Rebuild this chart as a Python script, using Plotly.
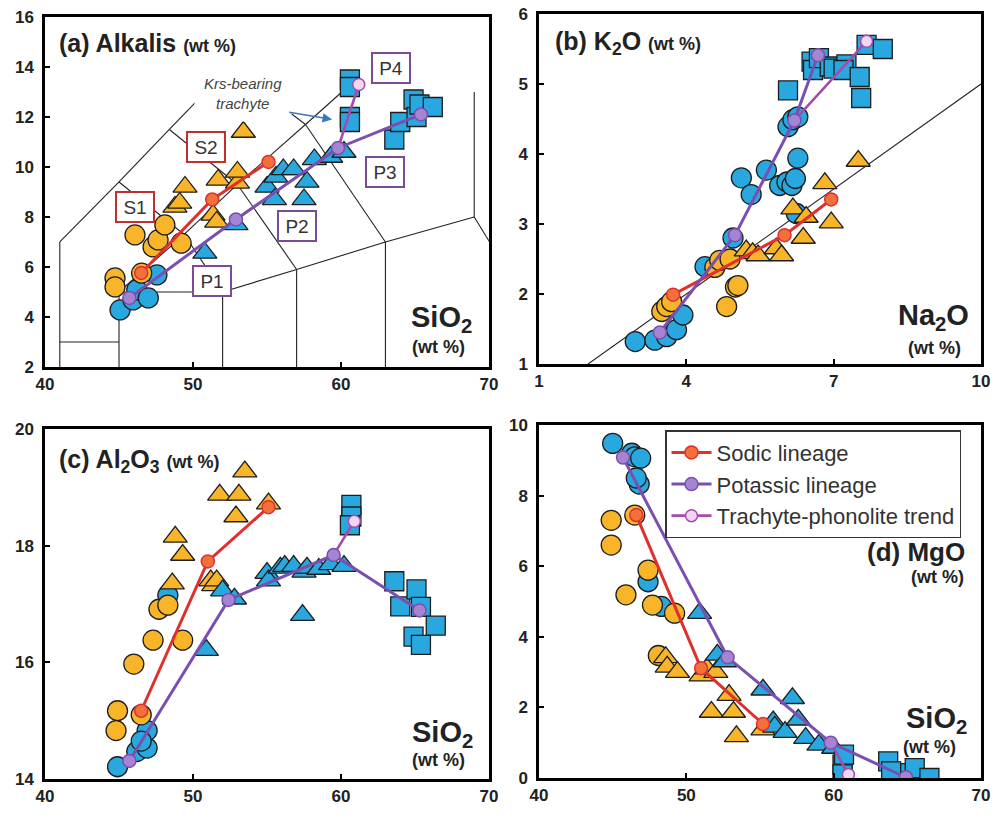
import plotly.graph_objects as go

# ---------------- DATA ----------------
# Panel (a) Alkalis vs SiO2
a_bc_x = [45.07, 45.95, 46.2, 46.98, 47.56]
a_bc_y = [4.28, 4.68, 5.08, 4.76, 5.68]
a_oc_x = [44.73, 44.73, 46.08, 46.53, 47.3, 47.64, 48.1, 49.2]
a_oc_y = [5.56, 5.2, 7.28, 5.75, 6.8, 7.08, 7.68, 6.95]
a_ot_x = [48.78, 49.1, 49.46, 51.35, 51.6, 51.7, 53.0, 53.0, 53.4]
a_ot_y = [8.4, 8.56, 9.2, 8.08, 7.8, 9.48, 9.36, 9.8, 11.4]
a_bt_x = [50.8, 52.9, 55.0, 55.5, 55.6, 56.1, 56.8, 57.5, 57.7, 58.2, 59.3, 60.2]
a_bt_y = [6.56, 7.7, 9.2, 8.7, 9.6, 9.9, 9.9, 8.7, 9.4, 10.3, 10.4, 10.6]
a_bs_x = [60.6, 60.6, 60.6, 60.6, 63.6, 64.0, 64.9, 65.1, 65.3, 66.2]
a_bs_y = [13.5, 13.2, 12.0, 11.8, 11.1, 11.8, 12.7, 12.0, 12.5, 12.4]
a_sod_x = [46.5, 51.3, 55.1]
a_sod_y = [5.76, 8.7, 10.2]
a_pot_x = [45.7, 52.9, 59.8, 65.4]
a_pot_y = [4.76, 7.9, 10.76, 12.1]
a_tr_x = [59.8, 61.2]
a_tr_y = [10.76, 13.3]

# TAS classification boundaries (SiO2, Na2O+K2O)
tas_segments = [
    [(41, 0), (41, 7)], [(41, 3), (45, 3)], [(45, 0), (45, 5)],
    [(45, 5), (52, 5)], [(52, 0), (52, 5)], [(52, 5), (57, 5.9)],
    [(57, 0), (57, 5.9)], [(57, 5.9), (63, 7)], [(63, 0), (63, 7)],
    [(63, 7), (69, 8)], [(69, 8), (77.3, 0)], [(69, 8), (69, 13)],
    [(41, 7), (45, 9.4)], [(45, 9.4), (49.4, 7.3)], [(45, 5), (49.4, 7.3)],
    [(49.4, 7.3), (52, 5)], [(49.4, 7.3), (53, 9.3)], [(53, 9.3), (57, 5.9)],
    [(45, 9.4), (48.4, 11.5)], [(48.4, 11.5), (53, 9.3)],
    [(53, 9.3), (57.6, 11.7)], [(57.6, 11.7), (63, 7)],
    [(48.4, 11.5), (52.5, 14)], [(52.5, 14), (57.6, 11.7)],
    [(57.6, 11.7), (61, 13.5)],
]
a_labels = ["S1", "S2", "P1", "P2", "P3", "P4"]
a_label_x = [46.1, 50.9, 51.3, 57.0, 63.0, 63.4]
a_label_y = [8.4, 10.8, 5.44, 7.64, 9.8, 13.96]

# Panel (b) K2O vs Na2O
b_bc_x = [2.96, 3.36, 3.6, 3.8, 3.93, 4.38, 4.95, 5.12, 5.32, 5.63, 5.9, 6.05, 6.15, 6.22, 6.27, 6.24, 6.07, 6.17, 6.27]
b_bc_y = [1.32, 1.34, 1.39, 1.49, 1.7, 2.39, 2.8, 3.66, 3.42, 3.77, 3.55, 3.6, 3.55, 3.65, 3.94, 3.15, 4.39, 4.49, 4.53]
b_oc_x = [3.5, 3.6, 3.7, 4.58, 4.68, 4.89, 5.0, 5.05, 4.82]
b_oc_y = [1.75, 1.82, 1.89, 2.38, 2.48, 2.5, 2.1, 2.12, 1.82]
b_ot_x = [5.22, 5.35, 5.46, 5.83, 5.94, 6.17, 6.38, 6.44, 6.82, 6.95, 7.5]
b_ot_y = [2.62, 2.58, 2.55, 2.65, 2.55, 3.22, 2.8, 3.1, 3.58, 3.02, 3.9]
b_bs_x = [6.07, 6.55, 6.58, 6.7, 6.92, 7.0, 7.26, 7.2, 7.53, 7.56, 7.67, 8.0]
b_bs_y = [4.91, 5.32, 5.2, 5.37, 5.25, 5.22, 5.28, 5.2, 5.1, 4.8, 5.56, 5.5]
b_sod_x = [3.73, 6.0, 6.95]
b_sod_y = [1.99, 2.84, 3.35]
b_pot_x = [3.46, 4.99, 6.2, 6.68]
b_pot_y = [1.45, 2.84, 4.48, 5.41]
b_tr_x = [6.2, 7.67]
b_tr_y = [4.48, 5.61]
b_ratio_x = [2, 10]
b_ratio_y = [1, 5]

# Panel (c) Al2O3 vs SiO2
c_bc_x = [44.9, 46.2, 46.9, 46.9, 46.5, 48.3]
c_bc_y = [14.21, 14.47, 14.53, 14.83, 14.65, 17.15]
c_oc_x = [44.9, 44.8, 46.0, 46.5, 47.3, 47.7, 48.3, 49.3]
c_oc_y = [15.17, 14.83, 15.97, 15.1, 16.38, 16.91, 16.98, 16.38]
c_ot_x = [48.6, 48.8, 49.3, 51.2, 51.4, 51.6, 51.8, 52.9, 53.1, 53.5, 55.1]
c_ot_y = [17.35, 18.15, 17.84, 17.4, 17.32, 17.4, 18.87, 18.5, 18.87, 19.27, 18.72]
c_bt_x = [50.9, 52.0, 52.8, 55.0, 55.1, 55.9, 56.2, 56.8, 57.4, 57.5, 57.7, 58.5, 59.3, 60.2]
c_bt_y = [16.21, 17.23, 17.09, 17.53, 17.4, 17.62, 17.65, 17.65, 16.81, 17.55, 17.62, 17.6, 17.68, 17.65]
c_bs_x = [60.7, 60.7, 60.6, 63.6, 64.0, 65.1, 65.4, 66.4, 64.9, 65.4]
c_bs_y = [18.7, 18.5, 18.35, 17.39, 16.96, 17.25, 16.95, 16.63, 16.44, 16.3]
c_sod_x = [46.5, 51.0, 55.1]
c_sod_y = [15.17, 17.73, 18.66]
c_pot_x = [45.7, 52.4, 59.5, 65.3]
c_pot_y = [14.31, 17.07, 17.84, 16.89]
c_tr_x = [59.5, 60.9]
c_tr_y = [17.84, 18.42]

# Panel (d) MgO vs SiO2
d_bc_x = [45.0, 46.3, 46.5, 46.9, 46.8, 46.6, 47.4, 48.3]
d_bc_y = [9.48, 9.2, 9.1, 9.06, 8.33, 8.5, 5.56, 4.86]
d_oc_x = [44.9, 44.9, 46.5, 45.9, 47.4, 47.7, 49.2, 48.1]
d_oc_y = [7.3, 6.6, 7.45, 5.19, 5.89, 4.9, 4.67, 3.47]
d_ot_x = [48.6, 48.7, 49.4, 51.0, 51.4, 52.0, 52.9, 51.7, 53.2, 53.4, 55.2]
d_ot_y = [3.42, 3.15, 3.0, 2.9, 3.1, 3.0, 2.35, 1.87, 1.87, 1.18, 1.37]
d_bt_x = [50.9, 52.1, 52.6, 55.2, 55.9, 56.0, 56.7, 57.2, 57.6, 58.1, 59.0, 60.0]
d_bt_y = [4.67, 3.49, 3.3, 2.5, 1.6, 1.45, 1.3, 2.26, 1.65, 1.13, 0.94, 0.85]
d_bs_x = [60.6, 60.6, 60.7, 63.7, 63.9, 65.2, 65.5, 66.5]
d_bs_y = [0.38, 0.1, 0.66, 0.47, 0.19, 0.14, 0.28, 0.0]
d_sod_x = [46.6, 51.0, 55.2]
d_sod_y = [7.45, 3.11, 1.53]
d_pot_x = [45.7, 52.8, 59.8, 64.9]
d_pot_y = [9.08, 3.42, 1.0, 0.02]
d_tr_x = [59.8, 61.0]
d_tr_y = [1.0, 0.1]

# ---------------- STYLE ----------------
FONT = "Liberation Sans, Arial, sans-serif"
ORANGE = "#F9B52A"
BLUE = "#29A8E0"
EDGE = "#1E1E1E"
SOD_LINE, SOD_FILL = "#E0302E", "#F2703A"
POT_LINE, POT_FILL = "#7A4FB0", "#A585D2"
TR_LINE, TR_FILL = "#A54BAE", "#F0D6F2"

fig = go.Figure()

panels = [
    ("x", "y", a_bc_x, a_bc_y, a_oc_x, a_oc_y, a_ot_x, a_ot_y, a_bt_x, a_bt_y, a_bs_x, a_bs_y,
     a_sod_x, a_sod_y, a_pot_x, a_pot_y, a_tr_x, a_tr_y),
    ("x2", "y2", b_bc_x, b_bc_y, b_oc_x, b_oc_y, b_ot_x, b_ot_y, [], [], b_bs_x, b_bs_y,
     b_sod_x, b_sod_y, b_pot_x, b_pot_y, b_tr_x, b_tr_y),
    ("x3", "y3", c_bc_x, c_bc_y, c_oc_x, c_oc_y, c_ot_x, c_ot_y, c_bt_x, c_bt_y, c_bs_x, c_bs_y,
     c_sod_x, c_sod_y, c_pot_x, c_pot_y, c_tr_x, c_tr_y),
    ("x4", "y4", d_bc_x, d_bc_y, d_oc_x, d_oc_y, d_ot_x, d_ot_y, d_bt_x, d_bt_y, d_bs_x, d_bs_y,
     d_sod_x, d_sod_y, d_pot_x, d_pot_y, d_tr_x, d_tr_y),
]

# TAS lines in panel (a)
for seg in tas_segments:
    fig.add_trace(go.Scatter(x=[seg[0][0], seg[1][0]], y=[seg[0][1], seg[1][1]], mode="lines",
                             line=dict(color="#222222", width=1.1), xaxis="x", yaxis="y",
                             showlegend=False, hoverinfo="skip"))
# ratio line in panel (b)
fig.add_trace(go.Scatter(x=b_ratio_x, y=b_ratio_y, mode="lines", line=dict(color="#222222", width=1.1),
                         xaxis="x2", yaxis="y2", showlegend=False, hoverinfo="skip"))

for i, p in enumerate(panels):
    xa, ya = p[0], p[1]
    (bcx, bcy, ocx, ocy, otx, oty, btx, bty, bsx, bsy,
     sx, sy, px, py, tx, ty) = p[2:]
    common = dict(xaxis=xa, yaxis=ya, showlegend=False, mode="markers", hoverinfo="skip")
    fig.add_trace(go.Scatter(x=bcx, y=bcy, marker=dict(symbol="circle", size=20, color=BLUE,
                                                         line=dict(color=EDGE, width=1.3)), **common))
    fig.add_trace(go.Scatter(x=ocx, y=ocy, marker=dict(symbol="circle", size=20, color=ORANGE,
                                                         line=dict(color=EDGE, width=1.3)), **common))
    fig.add_trace(go.Scatter(x=otx, y=oty, marker=dict(symbol="triangle-up", size=21, color=ORANGE,
                                                         line=dict(color=EDGE, width=1.3)), **common))
    fig.add_trace(go.Scatter(x=btx, y=bty, marker=dict(symbol="triangle-up", size=21, color=BLUE,
                                                         line=dict(color=EDGE, width=1.3)), **common))
    fig.add_trace(go.Scatter(x=bsx, y=bsy, marker=dict(symbol="square", size=19, color=BLUE,
                                                         line=dict(color=EDGE, width=1.3)), **common))
    show = (i == 3)
    fig.add_trace(go.Scatter(x=tx, y=ty, mode="lines+markers", name="Trachyte-phonolite trend",
                             line=dict(color=TR_LINE, width=2.6),
                             marker=dict(size=12, color=TR_FILL, line=dict(color=TR_LINE, width=1.5)),
                             xaxis=xa, yaxis=ya, showlegend=show, legendrank=3, hoverinfo="skip"))
    fig.add_trace(go.Scatter(x=sx, y=sy, mode="lines+markers", name="Sodic lineage",
                             line=dict(color=SOD_LINE, width=3),
                             marker=dict(size=13, color=SOD_FILL, line=dict(color=SOD_LINE, width=1.5)),
                             xaxis=xa, yaxis=ya, showlegend=show, legendrank=1, hoverinfo="skip"))
    fig.add_trace(go.Scatter(x=px, y=py, mode="lines+markers", name="Potassic lineage",
                             line=dict(color=POT_LINE, width=3),
                             marker=dict(size=13, color=POT_FILL, line=dict(color=POT_LINE, width=1.5)),
                             xaxis=xa, yaxis=ya, showlegend=show, legendrank=2, hoverinfo="skip"))

axis_common = dict(showline=True, linewidth=2.5, linecolor="black", mirror=True, ticks="inside",
                   ticklen=5, tickwidth=1.5, tickcolor="black", showgrid=False, zeroline=False,
                   automargin=False, ticklabeloverflow="allow",
                   tickfont=dict(family=FONT, size=17, color="#222222", weight="bold"))
yax_extra = dict(ticklabelstandoff=5)

fig.update_layout(
    width=992, height=815, autosize=False,
    margin=dict(l=45, r=11, t=14, b=36),
    paper_bgcolor="white", plot_bgcolor="white",
    font=dict(family=FONT),
    xaxis=dict(domain=[0, 0.4744], range=[40, 70], tick0=40, dtick=10, anchor="y", **axis_common),
    yaxis=dict(domain=[0.5386, 0.9961], range=[2, 16], tick0=2, dtick=2, anchor="x", **axis_common, **yax_extra),
    xaxis2=dict(domain=[0.5278, 1.0], range=[1, 10], tick0=1, dtick=3, anchor="y2", **axis_common),
    yaxis2=dict(domain=[0.5425, 1.0], range=[1, 6], tick0=1, dtick=1, anchor="x2", **axis_common, **yax_extra),
    xaxis3=dict(domain=[0, 0.4744], range=[40, 70], tick0=40, dtick=10, anchor="y3", **axis_common),
    yaxis3=dict(domain=[0, 0.4575], range=[14, 20], tick0=14, dtick=2, anchor="x3", **axis_common, **yax_extra),
    xaxis4=dict(domain=[0.5278, 1.0], range=[40, 70], tick0=40, dtick=10, anchor="y4", **axis_common),
    yaxis4=dict(domain=[0.0013, 0.4627], range=[0, 10], tick0=0, dtick=2, anchor="x4", **axis_common, **yax_extra),
    legend=dict(x=0.6624, y=0.456, xanchor="left", yanchor="top", bgcolor="white",
                bordercolor="#333333", borderwidth=1.5, font=dict(family=FONT, size=22, color="#333333"),
                tracegroupgap=0, itemwidth=40),
)

ann = []
TXT = "#222222"
def lab(text, xref, yref, x, y, xanchor, size, bold=True):
    ann.append(dict(text=("<b>%s</b>" % text) if bold else text, xref=xref, yref=yref, x=x, y=y,
                    xanchor=xanchor, yanchor="middle", showarrow=False,
                    font=dict(family=FONT, size=size, color=TXT)))

small = "<span style='font-size:18px'>(wt %)</span>"
lab("(a) Alkalis " + small, "x domain", "y domain", 0.027, 0.926, "left", 25)
lab("SiO<sub>2</sub>", "x domain", "y domain", 0.966, 0.138, "right", 29)
lab("(wt %)", "x domain", "y domain", 0.950, 0.057, "right", 18)
lab("(b) K<sub>2</sub>O " + small, "x2 domain", "y2 domain", 0.032, 0.917, "left", 25)
lab("Na<sub>2</sub>O", "x2 domain", "y2 domain", 0.977, 0.135, "right", 29)
lab("(wt %)", "x2 domain", "y2 domain", 0.959, 0.046, "right", 18)
lab("(c) Al<sub>2</sub>O<sub>3</sub> " + small, "x3 domain", "y3 domain", 0.027, 0.909, "left", 25)
lab("SiO<sub>2</sub>", "x3 domain", "y3 domain", 0.968, 0.13, "right", 29)
lab("(wt %)", "x3 domain", "y3 domain", 0.950, 0.054, "right", 18)
lab("(d) MgO", "x4 domain", "y4 domain", 0.968, 0.640, "right", 26)
lab("(wt %)", "x4 domain", "y4 domain", 0.966, 0.569, "right", 18)
lab("SiO<sub>2</sub>", "x4 domain", "y4 domain", 0.972, 0.163, "right", 29)
lab("(wt %)", "x4 domain", "y4 domain", 0.948, 0.088, "right", 18)

for t, x, y in zip(a_labels, a_label_x, a_label_y):
    col = "#C0302E" if t.startswith("S") else "#7A4C96"
    ann.append(dict(text=t, x=x, y=y, xref="x", yref="y", showarrow=False,
                    font=dict(family=FONT, size=19, color="#333333"), bgcolor="white",
                    bordercolor=col, borderwidth=2, borderpad=3, width=30, height=22))

ann.append(dict(text="<i>Krs-bearing<br>trachyte</i>", x=53.4, y=12.95, xref="x", yref="y",
                showarrow=False, bgcolor="white", align="center", borderpad=9,
                font=dict(family=FONT, size=15, color="#444444")))
ann.append(dict(text="", x=59.4, y=11.9, ax=56.4, ay=12.2, xref="x", yref="y", axref="x", ayref="y",
                showarrow=True, arrowhead=2, arrowsize=1.2, arrowwidth=1.6, arrowcolor="#3A78C0"))

fig.update_layout(annotations=ann)
fig.write_html("out.html", config={"displayModeBar": False},
               post_script="document.body.style.margin='0';document.body.style.overflow='hidden';")
